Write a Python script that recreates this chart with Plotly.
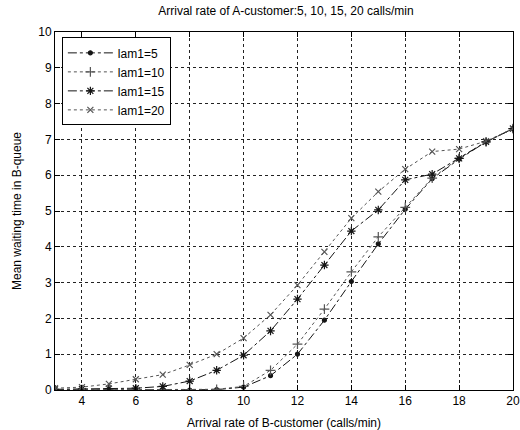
import plotly.graph_objects as go

x_vals = list(range(3, 21))
lam5 = [0.0, 0.0, 0.0, 0.0, 0.0, 0.0, 0.01, 0.08, 0.4, 1.0, 1.95, 3.03, 4.08, 5.05, 5.9, 6.45, 6.93, 7.3]
lam10 = [0.0, 0.0, 0.0, 0.0, 0.01, 0.01, 0.02, 0.1, 0.55, 1.28, 2.26, 3.3, 4.28, 5.1, 5.92, 6.47, 6.93, 7.3]
lam15 = [0.02, 0.03, 0.04, 0.05, 0.1, 0.25, 0.55, 0.97, 1.65, 2.54, 3.49, 4.44, 5.03, 5.87, 6.03, 6.47, 6.93, 7.3]
lam20 = [0.05, 0.08, 0.17, 0.3, 0.43, 0.7, 1.0, 1.45, 2.1, 2.93, 3.86, 4.8, 5.54, 6.17, 6.66, 6.73, 6.95, 7.3]
labels = ["lam1=5", "lam1=10", "lam1=15", "lam1=20"]
x_ticks = [4, 6, 8, 10, 12, 14, 16, 18, 20]
y_ticks = list(range(0, 11))

styles = [
    dict(dash="dashdot", symbol="circle", size=4, color="#151515", width=1.0),
    dict(dash="dot", symbol="cross-thin-open", size=7, color="#555555", width=1.0),
    dict(dash="dashdot", symbol="asterisk-open", size=7, color="#151515", width=1.0),
    dict(dash="dot", symbol="x-thin-open", size=6, color="#555555", width=1.0),
]

fig = go.Figure()
for ys, lab, st in zip([lam5, lam10, lam15, lam20], labels, styles):
    fig.add_trace(go.Scatter(
        x=x_vals, y=ys, name=lab, mode="lines+markers",
        line=dict(color=st["color"], width=st["width"], dash=st["dash"]),
        marker=dict(symbol=st["symbol"], size=st["size"], color=st["color"],
                    line=dict(color=st["color"], width=1.2)),
    ))

font = "Liberation Sans, Arial, sans-serif"
axis_common = dict(
    showline=True, linecolor="black", linewidth=1, mirror="ticks",
    ticks="inside", ticklen=5, tickcolor="black",
    showgrid=True, gridcolor="#222222", griddash="dot", gridwidth=1,
    zeroline=False, tickfont=dict(size=12, color="black", family=font),
)
fig.update_xaxes(range=[3, 20], tickvals=x_ticks, ticklabeloverflow="allow", automargin=False,
                 **axis_common,
                 title=dict(text="Arrival rate of B-customer (calls/min)",
                            font=dict(size=12, color="black", family=font), standoff=14))
fig.update_yaxes(range=[0, 10], tickvals=y_ticks, automargin=False, **axis_common,
                 title=dict(text="Mean waiting time in B-queue",
                            font=dict(size=12, color="black", family=font), standoff=14))

fig.update_layout(
    width=520, height=430,
    margin=dict(l=55, r=7, t=32, b=40),
    plot_bgcolor="white", paper_bgcolor="white",
    title=dict(text="Arrival rate of A-customer:5, 10, 15, 20 calls/min",
               x=0.55, xanchor="center", y=0.985, yanchor="top",
               font=dict(size=12, color="black", family=font)),
    legend=dict(x=0.015, y=0.985, xanchor="left", yanchor="top",
                bgcolor="white", bordercolor="black", borderwidth=1,
                font=dict(size=12, color="black", family=font),
                tracegroupgap=0, itemwidth=45),
    showlegend=True,
)

fig.write_html("out.html")
